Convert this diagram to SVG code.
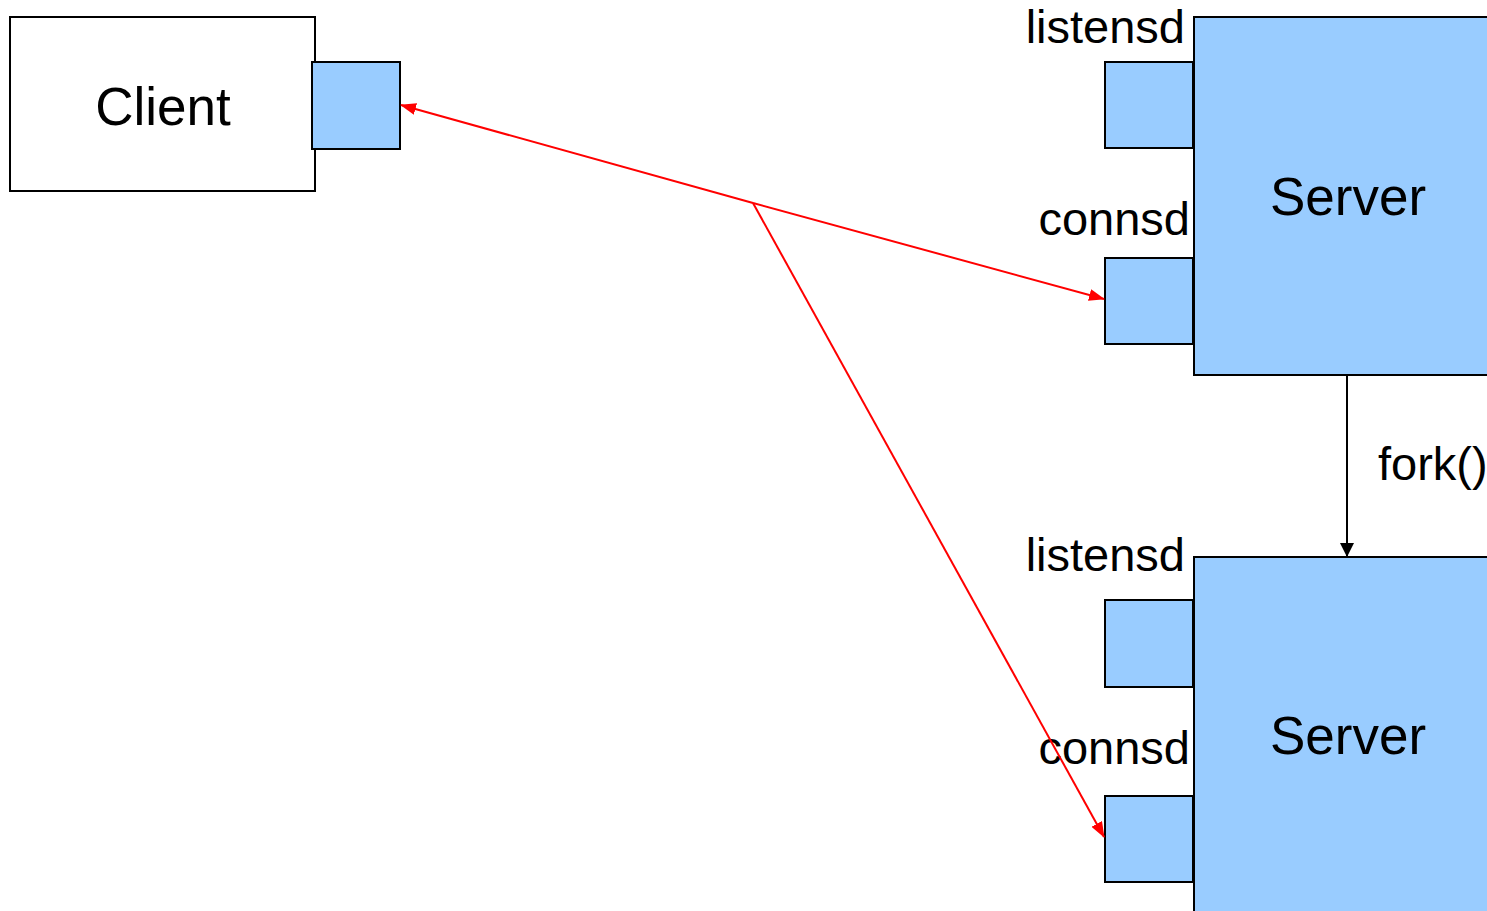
<svg xmlns="http://www.w3.org/2000/svg" width="1487" height="911" viewBox="0 0 1487 911">
<defs>
<style>
.box{stroke:#000;stroke-width:2}
.blue{fill:#99ccff}
.t{font-family:"Liberation Sans",Arial,sans-serif;fill:#000}
.big{font-size:53px}
.lbl{font-size:47px}
.red{stroke:#ff0000;stroke-width:2;fill:none}
</style>
<marker id="ar" markerWidth="16" markerHeight="12" refX="15" refY="6" orient="auto" markerUnits="userSpaceOnUse">
<path d="M0,0 L16,6 L0,12 Z" fill="#ff0000"/>
</marker>
<marker id="ab" markerWidth="14" markerHeight="14" refX="13" refY="7" orient="auto" markerUnits="userSpaceOnUse">
<path d="M0,0 L14,7 L0,14 Z" fill="#000"/>
</marker>
</defs>
<rect width="1487" height="911" fill="#fff"/>
<g id="client">
<rect class="box" x="10" y="17" width="305" height="174" fill="#fff"/>
<text class="t big" x="163" y="125" text-anchor="middle">Client</text>
<rect class="box blue" x="312" y="62" width="88" height="87"/>
</g>
<g id="server1">
<rect class="box blue" x="1194" y="17" width="300" height="358"/>
<text class="t big" x="1348" y="215" text-anchor="middle">Server</text>
<text class="t lbl" x="1185" y="43" text-anchor="end">listensd</text>
<rect class="box blue" x="1105" y="62" width="88" height="86"/>
<text class="t lbl" x="1190" y="235" text-anchor="end">connsd</text>
<rect class="box blue" x="1105" y="258" width="88" height="86"/>
</g>
<g id="server2">
<rect class="box blue" x="1194" y="557" width="300" height="360"/>
<text class="t big" x="1348" y="754" text-anchor="middle">Server</text>
<text class="t lbl" x="1185" y="571" text-anchor="end">listensd</text>
<rect class="box blue" x="1105" y="600" width="88" height="87"/>
<text class="t lbl" x="1190" y="764" text-anchor="end">connsd</text>
<rect class="box blue" x="1105" y="796" width="88" height="86"/>
</g>
<g id="connectors">
<line class="red" x1="753" y1="203" x2="401" y2="105" marker-end="url(#ar)"/>
<line class="red" x1="753" y1="203" x2="1104" y2="299" marker-end="url(#ar)"/>
<line class="red" x1="753" y1="203" x2="1104" y2="837" marker-end="url(#ar)"/>
<line x1="1347" y1="376" x2="1347" y2="556" stroke="#000" stroke-width="2" marker-end="url(#ab)"/>
<text class="t lbl" x="1378" y="480">fork()</text>
</g>
</svg>
